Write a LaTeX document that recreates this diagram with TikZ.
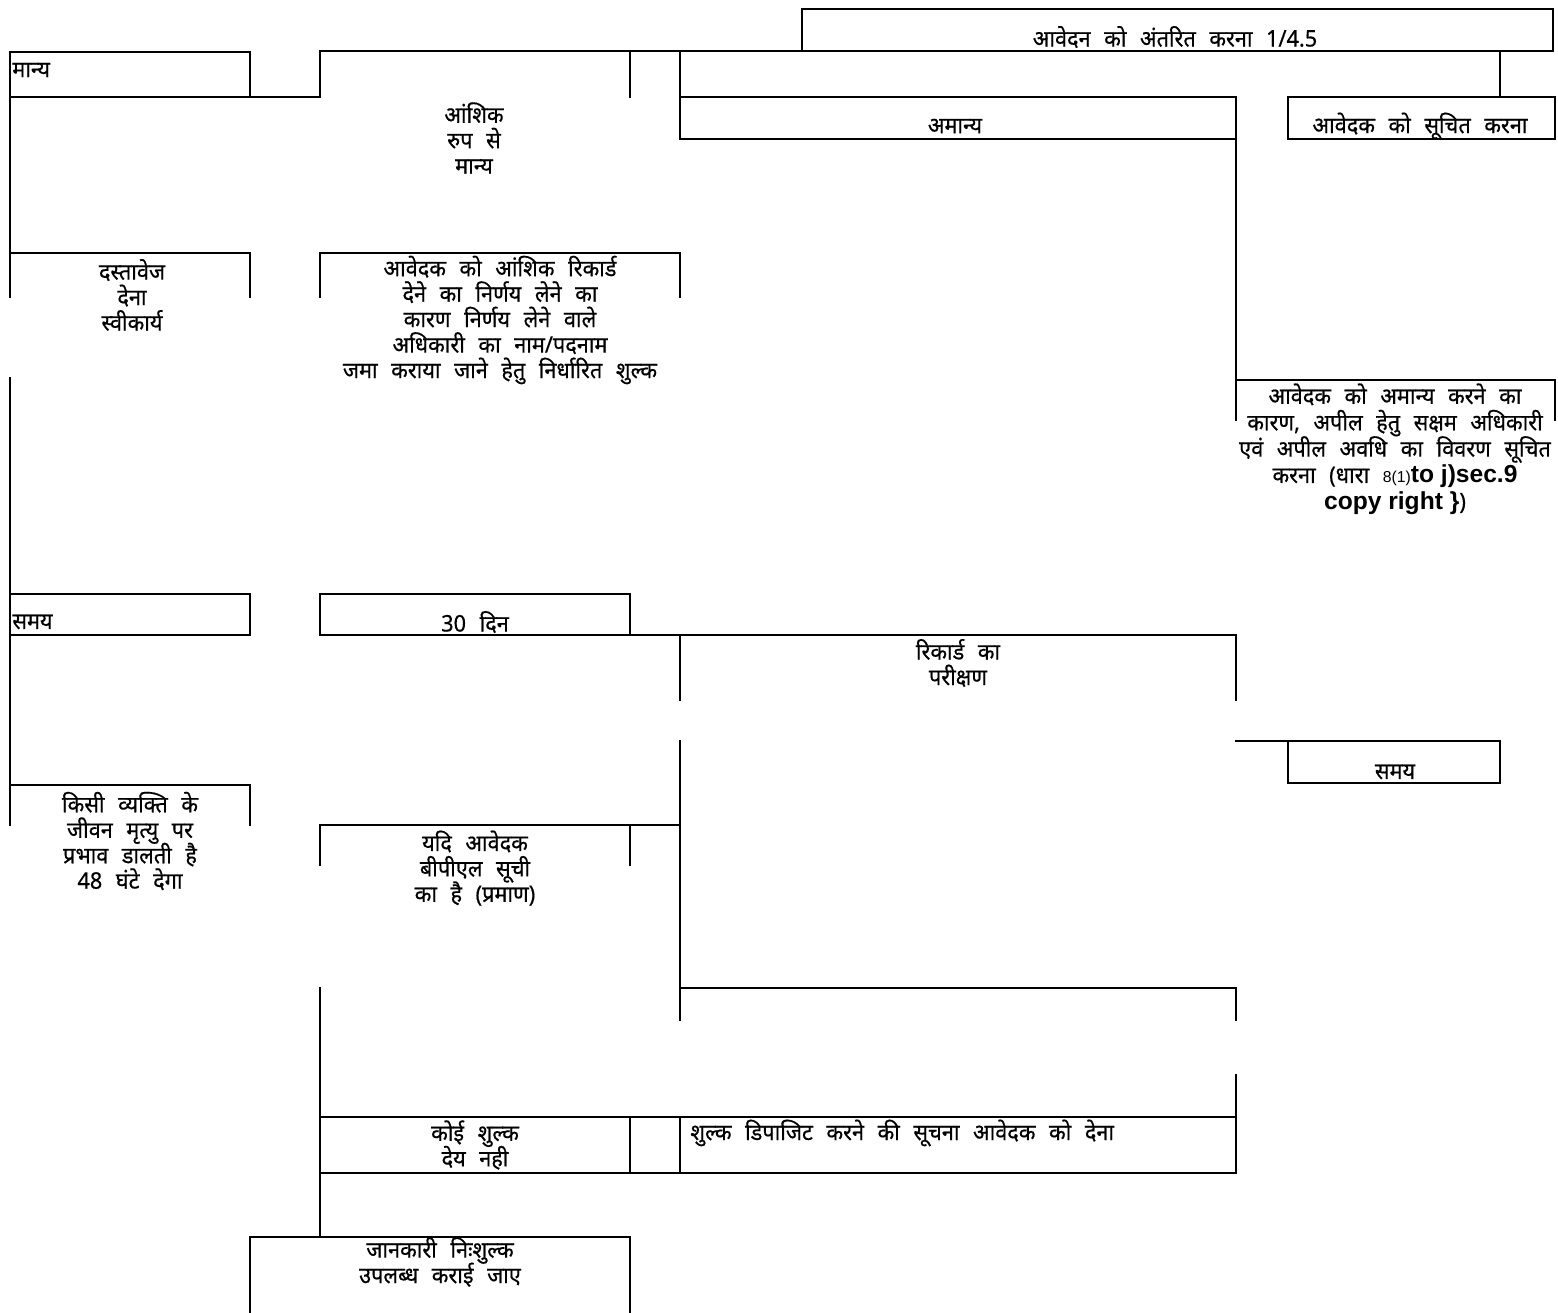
\documentclass[tikz,border=0pt]{standalone}
\usepackage{fontspec}
\newfontfamily\hindi[Script=Devanagari,FakeStretch=0.95,WordSpace=2.4,FakeBold=0.5]{Noto Sans}
\newfontfamily\latinb{Liberation Sans}
\usetikzlibrary{positioning}
\lineskiplimit=-100pt

\begin{document}
\begin{tikzpicture}[
		x=0.02cm,y=-0.02cm,
		font=\hindi\fontsize{13}{14.5}\selectfont,
		box/.style={line width=1pt,line cap=rect},
		txt/.style={align=center,inner sep=0pt},
		ltxt/.style={anchor=west,inner sep=0pt}]
		\useasboundingbox (0,0) rectangle (1558,1312);
		
		% Texts
		\node[txt] (transfer) at (1175,37) {आवेदन को अंतरित करना 1/4.5};
		\node[ltxt] (valid) at (12,70) {मान्य};
		\node[txt] (partly) at (474,138) {आंशिक\\ रुप से\\ मान्य};
		\node[txt] (invalid) at (955,126) {अमान्य};
		\node[txt] (inform) at (1420,126) {आवेदक को सूचित करना};
		\node[txt] (docs) at (132,295) {दस्तावेज\\ देना\\ स्वीकार्य};
		\node[txt] (partrec) at (500,320) {आवेदक को आंशिक रिकार्ड\\ देने का निर्णय लेने का\\ कारण निर्णय लेने वाले\\ अधिकारी का नाम/पदनाम\\ जमा कराया जाने हेतु निर्धारित शुल्क};
		\node[txt,font=\hindi\fontsize{13}{15}\selectfont] (reason) at (1395,449) {आवेदक को अमान्य करने का\\ कारण, अपील हेतु सक्षम अधिकारी\\ एवं अपील अवधि का विवरण सूचित\\ करना (धारा {\latinb\small 8(1)}{\latinb\bfseries\fontsize{14}{15}\selectfont to j)sec.9}\\ {\latinb\bfseries\fontsize{14}{15}\selectfont copy right \}})};
		\node[ltxt] (timeL) at (12,622) {समय};
		\node[txt] (days) at (475,622) {30 दिन};
		\node[txt] (exam) at (958,663) {रिकार्ड का\\ परीक्षण};
		\node[txt] (timeR) at (1395,772) {समय};
		\node[txt] (life) at (130,841) {किसी व्यक्ति के\\ जीवन मृत्यु पर\\ प्रभाव डालती है\\ 48 घंटे देगा};
		\node[txt] (bpl) at (475,868) {यदि आवेदक\\ बीपीएल सूची\\ का है (प्रमाण)};
		\node[txt] (nofee) at (475,1145) {कोई शुल्क\\ देय नही};
		\node[ltxt] (deposit) at (690,1133) {शुल्क डिपाजिट करने की सूचना आवेदक को देना};
		\node[txt] (free) at (440,1262) {जानकारी निःशुल्क\\ उपलब्ध कराई जाए};
		
		% Top row
		\draw[box] (680,139) -- (680,51) -- (1553,51) -- (1553,9) -- (802,9) -- (802,51);
		\draw[box] (1500,51) -- (1500,97);
		\draw[box] (320,51) -- (680,51);
		\draw[box] (680,97) -- (1236,97) -- (1236,420);
		\draw[box] (680,139) -- (1236,139);
		\draw[box] (1288,97) rectangle (1555,139);
		\draw[box] (10,297) -- (10,52) -- (250,52) -- (250,97);
		\draw[box] (10,97) -- (250,97);
		\draw[box,line width=1.5pt] (250,97) -- (320,97);
		\draw[box] (320,97) -- (320,51);
		\draw[box] (630,51) -- (630,97);
		
		% Second row
		\draw[box] (10,253) -- (250,253) -- (250,297);
		\draw[box] (320,297) -- (320,253) -- (680,253) -- (680,297);
		\draw[box] (1236,380) -- (1555,380) -- (1555,420);
		
		% Time row
		\draw[box] (10,378) -- (10,825);
		\draw[box] (10,594) -- (250,594) -- (250,635) -- (10,635);
		\draw[box] (320,635) -- (320,594) -- (630,594) -- (630,635);
		\draw[box] (320,635) -- (1236,635) -- (1236,700);
		\draw[box] (680,635) -- (680,700);
		\draw[box,line width=1.3pt] (1236,741) -- (1288,741);
		\draw[box] (1288,741) -- (1500,741) -- (1500,783) -- (1288,783) -- cycle;
		
		% Lower part
		\draw[box] (10,785) -- (250,785) -- (250,825);
		\draw[box] (320,865) -- (320,825) -- (680,825);
		\draw[box] (630,825) -- (630,865);
		\draw[box,line width=1.3pt] (680,741) -- (680,1020);
		\draw[box] (680,988) -- (1236,988) -- (1236,1020);
		\draw[box] (320,988) -- (320,1237);
		\draw[box] (1236,1075) -- (1236,1173);
		\draw[box,line width=1.3pt] (320,1117) -- (1236,1117);
		\draw[box,line width=1.3pt] (320,1173) -- (1236,1173);
		\draw[box] (630,1117) -- (630,1173);
		\draw[box] (680,1117) -- (680,1173);
		\draw[box] (250,1312) -- (250,1237) -- (630,1237) -- (630,1312);
		
\end{tikzpicture}
\end{document}
